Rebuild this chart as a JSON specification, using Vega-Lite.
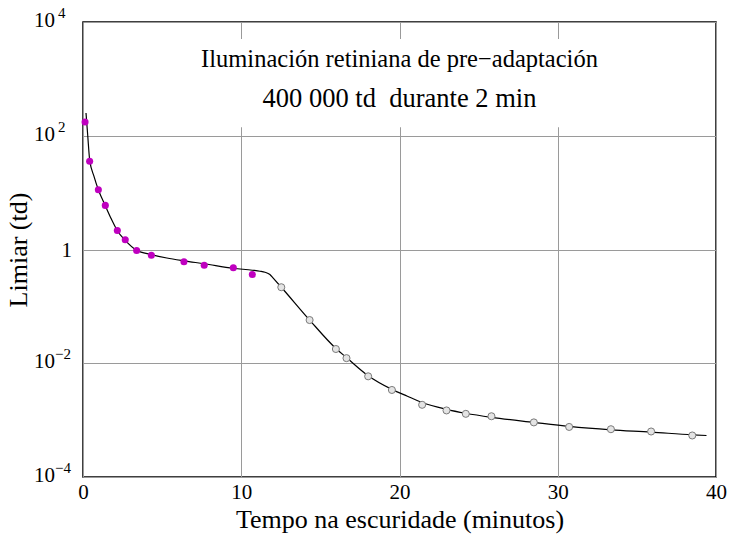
{
  "$schema": "https://vega.github.io/schema/vega-lite/v6.json",
  "width": 633,
  "height": 455,
  "autosize": {"type": "none"},
  "padding": {"left": 83, "top": 22, "right": 14, "bottom": 62},
  "background": "white",
  "config": {
    "view": {"stroke": "#000000", "strokeWidth": 1.5},
    "font": "Liberation Serif",
    "axis": {
      "labelFont": "Liberation Serif",
      "titleFont": "Liberation Serif",
      "labelColor": "#000000",
      "titleColor": "#000000",
      "titleFontWeight": "normal",
      "labelFontSize": 21,
      "titleFontSize": 26,
      "gridColor": "#9a9a9a",
      "gridWidth": 1,
      "gridOpacity": 1,
      "ticks": false,
      "domain": false
    }
  },
  "datasets": {
    "curve": [
      {"t": 0.19, "v": 251}, {"t": 0.30, "v": 100}, {"t": 0.42, "v": 38}, {"t": 0.70, "v": 19.1},
      {"t": 0.97, "v": 11.2}, {"t": 1.41, "v": 5.89}, {"t": 1.80, "v": 3.39}, {"t": 2.17, "v": 2.14},
      {"t": 2.67, "v": 1.445}, {"t": 3.39, "v": 0.966}, {"t": 4.32, "v": 0.813}, {"t": 5.30, "v": 0.708},
      {"t": 6.40, "v": 0.631}, {"t": 7.66, "v": 0.562}, {"t": 9.50, "v": 0.468}, {"t": 10.70, "v": 0.432},
      {"t": 11.18, "v": 0.415}, {"t": 11.50, "v": 0.398}, {"t": 11.81, "v": 0.363}, {"t": 12.02, "v": 0.313},
      {"t": 12.53, "v": 0.217}, {"t": 14.32, "v": 0.0575}, {"t": 15.98, "v": 0.0182}, {"t": 16.65, "v": 0.0126},
      {"t": 18.02, "v": 0.00603}, {"t": 19.52, "v": 0.00347}, {"t": 20.50, "v": 0.00263}, {"t": 21.43, "v": 0.00204},
      {"t": 22.97, "v": 0.00155}, {"t": 24.19, "v": 0.00132}, {"t": 25.81, "v": 0.00112}, {"t": 28.49, "v": 0.000912},
      {"t": 30.72, "v": 0.000776}, {"t": 33.36, "v": 0.000676}, {"t": 35.90, "v": 0.000617}, {"t": 38.50, "v": 0.000550},
      {"t": 39.40, "v": 0.000537}
    ],
    "cones": [
      {"t": 0.13, "v": 174}, {"t": 0.42, "v": 35.5}, {"t": 0.97, "v": 11.2}, {"t": 1.41, "v": 5.96},
      {"t": 2.17, "v": 2.16}, {"t": 2.67, "v": 1.48}, {"t": 3.39, "v": 0.96}, {"t": 4.32, "v": 0.794},
      {"t": 6.38, "v": 0.607}, {"t": 7.66, "v": 0.530}, {"t": 9.50, "v": 0.479}, {"t": 10.70, "v": 0.363}
    ],
    "rods": [
      {"t": 12.53, "v": 0.217}, {"t": 14.32, "v": 0.0575}, {"t": 15.98, "v": 0.0178}, {"t": 16.65, "v": 0.0123},
      {"t": 18.02, "v": 0.00589}, {"t": 19.52, "v": 0.00339}, {"t": 21.43, "v": 0.00186}, {"t": 22.97, "v": 0.00148},
      {"t": 24.19, "v": 0.00129}, {"t": 25.81, "v": 0.00117}, {"t": 28.49, "v": 0.000912}, {"t": 30.72, "v": 0.000759},
      {"t": 33.36, "v": 0.000692}, {"t": 35.90, "v": 0.000631}, {"t": 38.50, "v": 0.000537}
    ],
    "box": [{"x1": 7, "x2": 33, "y1": 141, "y2": 5012}],
    "notes": [
      {"t": 20, "v": 1622, "label": "Iluminación retiniana de pre−adaptación", "size": 24.5},
      {"t": 20, "v": 320, "label": "400 000 td\u00a0 durante 2 min", "size": 26.5}
    ],
    "ylabels": [
      {"v": 10000, "base": "10", "e": "4", "sign": "pos"},
      {"v": 100, "base": "10", "e": "2", "sign": "pos"},
      {"v": 1, "base": "1", "e": "", "sign": "one"},
      {"v": 0.01, "base": "10", "e": "−2", "sign": "neg"},
      {"v": 0.0001, "base": "10", "e": "−4", "sign": "neg"}
    ]
  },
  "layer": [
    {
      "data": {"name": "box"},
      "mark": {"type": "rect", "fill": "white", "stroke": null},
      "encoding": {
        "x": {"field": "x1", "type": "quantitative", "scale": {"domain": [0, 40], "nice": false},
          "axis": {"values": [0, 10, 20, 30, 40], "grid": true, "title": "Tempo na escuridade (minutos)", "labelPadding": 4, "titlePadding": 4, "labelFlush": false}},
        "x2": {"field": "x2"},
        "y": {"field": "y1", "type": "quantitative", "scale": {"type": "log", "domain": [0.0001, 10000], "nice": false},
          "axis": {"values": [0.0001, 0.01, 1, 100, 10000], "grid": true, "title": "Limiar (td)", "labels": false,
            "titleX": -65, "titleY": 227.5, "titleBaseline": "middle", "titleAngle": -90, "titleAlign": "center"}},
        "y2": {"field": "y2"}
      }
    },
    {
      "data": {"name": "curve"},
      "mark": {"type": "line", "color": "#000000", "strokeWidth": 1.2, "interpolate": "monotone"},
      "encoding": {
        "x": {"field": "t", "type": "quantitative"},
        "y": {"field": "v", "type": "quantitative"}
      }
    },
    {
      "data": {"name": "cones"},
      "mark": {"type": "point", "shape": "circle", "filled": true, "color": "#bf00bf", "size": 50, "opacity": 1},
      "encoding": {
        "x": {"field": "t", "type": "quantitative"},
        "y": {"field": "v", "type": "quantitative"}
      }
    },
    {
      "data": {"name": "rods"},
      "mark": {"type": "point", "shape": "circle", "filled": true, "fill": "#e4e4e4", "stroke": "#7a7a7a", "strokeWidth": 1, "size": 50, "opacity": 1},
      "encoding": {
        "x": {"field": "t", "type": "quantitative"},
        "y": {"field": "v", "type": "quantitative"}
      }
    },
    {
      "data": {"name": "notes"},
      "mark": {"type": "text", "font": "Liberation Serif", "color": "#000000", "align": "center", "baseline": "alphabetic"},
      "encoding": {
        "x": {"field": "t", "type": "quantitative"},
        "y": {"field": "v", "type": "quantitative"},
        "text": {"field": "label"},
        "size": {"field": "size", "type": "quantitative", "scale": null}
      }
    },
    {
      "data": {"name": "ylabels"},
      "transform": [{"filter": "datum.sign != 'one'"}],
      "mark": {"type": "text", "font": "Liberation Serif", "fontSize": 21, "color": "#000000", "align": "right", "baseline": "alphabetic", "dx": -28, "dy": 5},
      "encoding": {
        "x": {"datum": 0, "type": "quantitative"},
        "y": {"field": "v", "type": "quantitative"},
        "text": {"field": "base"}
      }
    },
    {
      "data": {"name": "ylabels"},
      "transform": [{"filter": "datum.sign == 'one'"}],
      "mark": {"type": "text", "font": "Liberation Serif", "fontSize": 21, "color": "#000000", "align": "right", "baseline": "alphabetic", "dx": -11, "dy": 7},
      "encoding": {
        "x": {"datum": 0, "type": "quantitative"},
        "y": {"field": "v", "type": "quantitative"},
        "text": {"field": "base"}
      }
    },
    {
      "data": {"name": "ylabels"},
      "transform": [{"filter": "datum.sign == 'pos'"}],
      "mark": {"type": "text", "font": "Liberation Serif", "fontSize": 15, "color": "#000000", "align": "left", "baseline": "alphabetic", "dx": -25, "dy": -4},
      "encoding": {
        "x": {"datum": 0, "type": "quantitative"},
        "y": {"field": "v", "type": "quantitative"},
        "text": {"field": "e"}
      }
    },
    {
      "data": {"name": "ylabels"},
      "transform": [{"filter": "datum.sign == 'neg'"}],
      "mark": {"type": "text", "font": "Liberation Serif", "fontSize": 15, "color": "#000000", "align": "left", "baseline": "alphabetic", "dx": -28, "dy": -4},
      "encoding": {
        "x": {"datum": 0, "type": "quantitative"},
        "y": {"field": "v", "type": "quantitative"},
        "text": {"field": "e"}
      }
    }
  ]
}
